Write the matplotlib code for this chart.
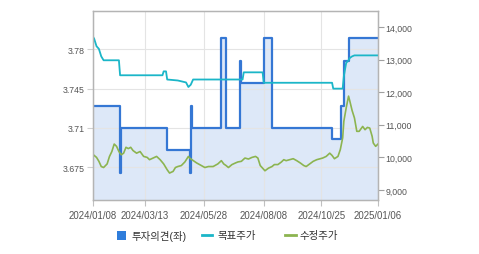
import matplotlib.pyplot as plt
import numpy as np
import pandas as pd
from matplotlib.lines import Line2D
from matplotlib.patches import Rectangle

# 한글 글꼴: 숫자는 Liberation, 한글은 Noto CJK 로 넘어감
plt.rcParams['font.family'] = ['Liberation Sans', 'Noto Sans CJK KR', 'DejaVu Sans']

# KRX 휴장일 (x축은 거래일 기준)
krx_holidays = [
    '2024-02-09', '2024-02-12', '2024-03-01', '2024-04-10', '2024-05-01',
    '2024-05-06', '2024-05-15', '2024-06-06', '2024-08-15', '2024-09-16',
    '2024-09-17', '2024-09-18', '2024-10-01', '2024-10-03', '2024-10-09',
    '2024-12-25', '2024-12-31', '2025-01-01',
]

# 투자의견 (좌축, 계단형)
opinion_dates = [
    '2024-01-08', '2024-02-08', '2024-02-13', '2024-04-09', '2024-05-09',
    '2024-05-10', '2024-05-13', '2024-06-19', '2024-06-25', '2024-07-11',
    '2024-07-12', '2024-08-08', '2024-08-20', '2024-11-07', '2024-11-19',
    '2024-11-21', '2024-11-27', '2025-01-06',
]
opinion_values = [
    3.73, 3.67, 3.71, 3.69, 3.67,
    3.73, 3.71, 3.79, 3.71, 3.77,
    3.75, 3.79, 3.71, 3.70, 3.73,
    3.77, 3.79, 3.79,
]

# 목표주가 (우축)
target_dates = [
    '2024-01-08', '2024-01-09', '2024-01-11', '2024-01-15', '2024-01-17',
    '2024-01-19', '2024-02-07', '2024-02-08', '2024-04-03', '2024-04-04',
    '2024-04-08', '2024-04-09', '2024-04-23', '2024-05-03', '2024-05-08',
    '2024-05-10', '2024-05-14', '2024-07-15', '2024-07-16', '2024-08-07',
    '2024-08-08', '2024-11-07', '2024-11-08', '2024-11-20', '2024-11-21',
    '2024-11-22', '2024-11-25', '2024-11-27', '2024-11-28', '2024-12-02',
    '2024-12-04', '2025-01-06',
]
target_values = [
    13700, 13640, 13410, 13330, 13100,
    12980, 12980, 12520, 12520, 12640,
    12640, 12390, 12360, 12300, 12160,
    12230, 12390, 12390, 12610, 12610,
    12290, 12290, 12110, 12110, 12490,
    12700, 12900, 12980, 13050, 13100,
    13130, 13130,
]

# 수정주가 (우축)
price_dates = [
    '2024-01-08', '2024-01-09', '2024-01-11', '2024-01-15', '2024-01-17',
    '2024-01-19', '2024-01-24', '2024-01-26', '2024-01-30', '2024-02-01',
    '2024-02-05', '2024-02-07', '2024-02-13', '2024-02-15', '2024-02-19',
    '2024-02-21', '2024-02-23', '2024-02-27', '2024-03-04', '2024-03-07',
    '2024-03-12', '2024-03-15', '2024-03-19', '2024-03-22', '2024-03-27',
    '2024-04-01', '2024-04-04', '2024-04-09', '2024-04-12', '2024-04-17',
    '2024-04-19', '2024-04-23', '2024-04-26', '2024-05-02', '2024-05-08',
    '2024-05-09', '2024-05-13', '2024-05-20', '2024-05-24', '2024-05-29',
    '2024-06-03', '2024-06-10', '2024-06-14', '2024-06-19', '2024-06-21',
    '2024-06-25', '2024-06-27', '2024-07-02', '2024-07-05', '2024-07-09',
    '2024-07-12', '2024-07-17', '2024-07-22', '2024-07-25', '2024-07-30',
    '2024-08-01', '2024-08-05', '2024-08-07', '2024-08-09', '2024-08-14',
    '2024-08-20', '2024-08-22', '2024-08-27', '2024-08-30', '2024-09-03',
    '2024-09-05', '2024-09-10', '2024-09-13', '2024-09-23', '2024-09-26',
    '2024-10-02', '2024-10-07', '2024-10-11', '2024-10-16', '2024-10-21',
    '2024-10-24', '2024-10-28', '2024-10-31', '2024-11-05', '2024-11-07',
    '2024-11-11', '2024-11-14', '2024-11-18', '2024-11-20', '2024-11-21',
    '2024-11-25', '2024-11-27', '2024-11-28', '2024-12-02', '2024-12-04',
    '2024-12-06', '2024-12-10', '2024-12-12', '2024-12-13', '2024-12-17',
    '2024-12-19', '2024-12-23', '2024-12-26', '2024-12-27', '2025-01-02',
    '2025-01-06',
]
price_values = [
    10090, 10060, 10000, 9880, 9720,
    9690, 9800, 10030, 10180, 10410,
    10340, 10180, 10080, 10130, 10310,
    10270, 10310, 10210, 10130, 10180,
    10030, 10000, 9930, 9980, 10030,
    9930, 9800, 9620, 9520, 9570,
    9690, 9720, 9750, 9860, 10030,
    9980, 9930, 9830, 9750, 9690,
    9720, 9720, 9800, 9900, 9800,
    9750, 9690, 9780, 9830, 9860,
    9880, 9980, 9950, 10000, 10030,
    9980, 9750, 9670, 9590, 9670,
    9720, 9780, 9780, 9860, 9930,
    9900, 9930, 9960, 9900, 9830,
    9750, 9720, 9800, 9880, 9930,
    9960, 9980, 10030, 10130, 10060,
    9960, 10030, 10240, 10600, 11110,
    11520, 11880, 11740, 11440, 11210,
    10800, 10800, 10900, 10950, 10850,
    10920, 10900, 10650, 10440, 10340,
    10410,
]

tick_labels = ['2024/01/08', '2024/03/13', '2024/05/28', '2024/08/08', '2024/10/25', '2025/01/06']
left_ticks = [3.675, 3.71, 3.745, 3.78]
right_ticks = [9000, 10000, 11000, 12000, 13000, 14000]
legend_labels = ['투자의견(좌)', '목표주가', '수정주가']

OPINION_BLUE = '#3577d4'
FILL_BLUE = '#dde8f8'
TARGET_CYAN = '#1bb6c8'
PRICE_GREEN = '#8cb450'
TEXT = '#555555'

sessions = pd.bdate_range('2024-01-08', '2025-01-06', freq='C', holidays=krx_holidays)


def to_session(dates):
    idx = sessions.get_indexer(pd.to_datetime(dates))
    assert (idx >= 0).all(), dates
    return idx


W, H = 479, 255
fig = plt.figure(figsize=(W / 100, H / 100), dpi=100)
ax = fig.add_axes([93 / W, 1 - 201 / H, 285 / W, 189 / H])
ax2 = ax.twinx()

x_op = to_session(opinion_dates)
ax.fill_between(x_op, opinion_values, 3.0, step='post', color=FILL_BLUE, lw=0)
ax.step(x_op, opinion_values, where='post', color=OPINION_BLUE, lw=1.6)

ax2.plot(to_session(target_dates), target_values, color=TARGET_CYAN, lw=1.3)
ax2.plot(to_session(price_dates), price_values, color=PRICE_GREEN, lw=1.2)

ax.set_xlim(0, len(sessions) - 1)
ax.set_ylim(3.6458, 3.8143)
ax2.set_ylim(8693, 14492)

tick_dates = [t.replace('/', '-') for t in tick_labels]
ax.set_xticks(to_session(tick_dates), labels=tick_labels)
ax.set_yticks(left_ticks, labels=[f'{v:g}' for v in left_ticks])
ax2.set_yticks(right_ticks, labels=[f'{v:,}' for v in right_ticks])

ax.grid(True, color='#e4e4e4', lw=0.8)
for a in (ax, ax2):
    for s in a.spines.values():
        s.set_color('#b4b4b4')
        s.set_linewidth(0.9)

ax.tick_params(axis='y', length=4, color='#d0d0d0', labelsize=6.3, labelcolor=TEXT, pad=2)
ax.tick_params(axis='x', length=4, color='#c0c0c0', labelsize=6.9, labelcolor=TEXT, pad=3)
ax2.tick_params(axis='y', length=4, color='#a0a0a0', labelsize=6.3, labelcolor=TEXT, pad=1.5)

# 범례 (하단, 수동 배치)
ly = 1 - 236 / H
fig.add_artist(Rectangle((117 / W, 1 - 240.5 / H), 9 / W, 9 / H,
                         transform=fig.transFigure, color='#2f7ddb', lw=0))
fig.text(131 / W, ly, legend_labels[0], va='center', ha='left', fontsize=7.5, color='#333333')
fig.add_artist(Line2D([202 / W, 212 / W], [ly, ly], transform=fig.transFigure,
                      color=TARGET_CYAN, lw=2))
fig.text(217 / W, ly, legend_labels[1], va='center', ha='left', fontsize=7.5, color='#333333')
fig.add_artist(Line2D([285 / W, 296 / W], [ly, ly], transform=fig.transFigure,
                      color=PRICE_GREEN, lw=2))
fig.text(300 / W, ly, legend_labels[2], va='center', ha='left', fontsize=7.5, color='#333333')

fig.savefig('out.png', dpi=100)
